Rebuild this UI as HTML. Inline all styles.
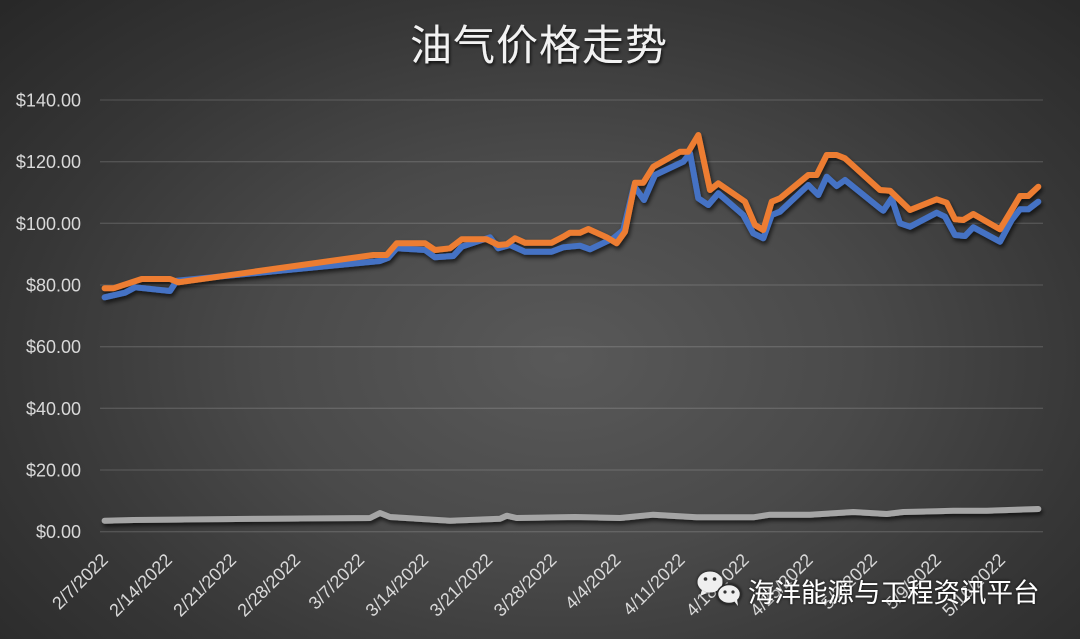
<!DOCTYPE html>
<html>
<head>
<meta charset="utf-8">
<style>
  html,body{margin:0;padding:0;}
  body{width:1080px;height:639px;overflow:hidden;
    background: radial-gradient(ellipse 78% 88% at 52% 56%, #595959 0%, #4a4a4a 35%, #363636 65%, #262626 95%, #222 100%);}
  svg{display:block;}
  .yl{font-family:"Liberation Sans",sans-serif;font-size:18px;fill:#d9d9d9;text-anchor:end;}
  .xl{font-family:"Liberation Sans",sans-serif;font-size:18px;fill:#d9d9d9;text-anchor:end;}
</style>
</head>
<body>
<svg width="1080" height="639" viewBox="0 0 1080 639" xmlns="http://www.w3.org/2000/svg">
  <defs>
    <filter id="sh" x="-5%" y="-20%" width="110%" height="140%">
      <feDropShadow dx="1.5" dy="3" stdDeviation="2.2" flood-color="#000" flood-opacity="0.65"/>
    </filter>
    <filter id="tsh" x="-10%" y="-30%" width="120%" height="160%">
      <feDropShadow dx="1" dy="2" stdDeviation="1.5" flood-color="#000" flood-opacity="0.8"/>
    </filter>
    <filter id="wsh" x="-10%" y="-30%" width="120%" height="160%">
      <feDropShadow dx="0" dy="0" stdDeviation="1.5" flood-color="#000" flood-opacity="0.9"/>
    </filter>
  </defs>

  <!-- Title -->
  <text x="539" y="60" text-anchor="middle" filter="url(#tsh)"
        style="font-family:'Liberation Sans','Noto Sans CJK SC',sans-serif;font-size:42px;fill:#f2f2f2;letter-spacing:1px;">油气价格走势</text>

  <!-- Gridlines -->
  <g stroke="#ffffff" stroke-opacity="0.14" stroke-width="1.3">
    <line x1="100" y1="100" x2="1043" y2="100"/>
    <line x1="100" y1="161.7" x2="1043" y2="161.7"/>
    <line x1="100" y1="223.3" x2="1043" y2="223.3"/>
    <line x1="100" y1="285" x2="1043" y2="285"/>
    <line x1="100" y1="346.7" x2="1043" y2="346.7"/>
    <line x1="100" y1="408.3" x2="1043" y2="408.3"/>
    <line x1="100" y1="470" x2="1043" y2="470"/>
    <line x1="100" y1="531.7" x2="1043" y2="531.7"/>
  </g>

  <!-- Y labels -->
  <text class="yl" x="81" y="106.5">$140.00</text>
  <text class="yl" x="81" y="168.2">$120.00</text>
  <text class="yl" x="81" y="229.8">$100.00</text>
  <text class="yl" x="81" y="291.5">$80.00</text>
  <text class="yl" x="81" y="353.2">$60.00</text>
  <text class="yl" x="81" y="414.8">$40.00</text>
  <text class="yl" x="81" y="476.5">$20.00</text>
  <text class="yl" x="81" y="538.2">$0.00</text>

  <!-- X labels -->
  <g>
    <text class="xl" transform="translate(109.1,561) rotate(-45)">2/7/2022</text>
    <text class="xl" transform="translate(173.2,561) rotate(-45)">2/14/2022</text>
    <text class="xl" transform="translate(237.3,561) rotate(-45)">2/21/2022</text>
    <text class="xl" transform="translate(301.4,561) rotate(-45)">2/28/2022</text>
    <text class="xl" transform="translate(365.4,561) rotate(-45)">3/7/2022</text>
    <text class="xl" transform="translate(429.5,561) rotate(-45)">3/14/2022</text>
    <text class="xl" transform="translate(493.6,561) rotate(-45)">3/21/2022</text>
    <text class="xl" transform="translate(557.7,561) rotate(-45)">3/28/2022</text>
    <text class="xl" transform="translate(621.8,561) rotate(-45)">4/4/2022</text>
    <text class="xl" transform="translate(685.9,561) rotate(-45)">4/11/2022</text>
    <text class="xl" transform="translate(749.9,561) rotate(-45)">4/18/2022</text>
    <text class="xl" transform="translate(814.0,561) rotate(-45)">4/25/2022</text>
    <text class="xl" transform="translate(878.1,561) rotate(-45)">5/2/2022</text>
    <text class="xl" transform="translate(942.2,561) rotate(-45)">5/9/2022</text>
    <text class="xl" transform="translate(1006.3,561) rotate(-45)">5/16/2022</text>
  </g>

  <!-- Series -->
  <g fill="none" stroke-width="6" stroke-linejoin="round" stroke-linecap="round" filter="url(#sh)">
    <!-- Gray -->
    <polyline stroke="#a5a5a5" points="104.6,520.7 133.3,520 266.7,518.7 370,518 380,513 390,517 450,520.7 500,518.7 506.7,515.7 516.7,518 575,517 620,518 653.3,514.7 696.7,517.3 753.3,517.3 770,514.7 810,514.7 853.3,512 886.7,514 903.3,512 936.7,511.3 953.3,510.7 986.7,510.7 1038.3,509"/>
    <!-- Blue -->
    <polyline stroke="#4472c4" points="104.6,297.3 125,292.7 135,287.3 170,291 176.7,280.7 380,261 388,258 396.7,248.3 425,250 435,257.3 453.3,256 461.7,246.7 490,237.3 498.3,248.3 510,245 525,251.7 551.7,251.7 563.3,247.3 580,245.7 590,249.3 613.3,238.3 623.3,230 634,186 644,200 655,175 683.3,161.7 690,153.3 698.3,198.3 708.3,205 718.3,193.3 743.3,215 753.3,233.3 763.3,238.3 771.7,215 780,211.7 808.3,185 818.3,195 826.7,176.7 836.7,186 845,180 880,208.3 883.3,210.7 891.7,198.3 900,223.3 910,226.7 936.7,212.7 945,216.7 955,235 965,236 973.3,227.3 1000,241.7 1011.7,220 1020,209.3 1028.3,209.3 1038.3,201.7"/>
    <!-- Orange -->
    <polyline stroke="#ed7d31" points="104.6,288.3 113.3,288.3 141.7,279 170,279 178.3,282.3 373.3,255 386.7,255 396.7,243.3 425,243.3 435,250 450,248.3 461.7,239.3 486.7,239.3 498.3,245 506.7,244.3 515,238.3 525,242.7 551.7,242.7 563.3,236.7 570,232.7 580,232.7 588.3,229 606.7,237.3 616.7,243.3 625,231.7 635,182.7 643.3,182.7 653.3,166.7 680,151.7 688.3,151.7 698.3,135 710,190 718.3,183.3 745,201.7 755,225 763.3,230 771.7,201.7 780,198.3 808.3,175 816.7,175 826.7,155 836.7,155 845,158.3 880,190 890,190.7 910,210 936.7,199.3 946.7,202.7 955,219.3 963.3,220 973.3,214 1000,229.3 1013.3,207.3 1020,196 1028.3,196 1038.3,186.7"/>
  </g>

  <!-- Watermark -->
  <g filter="url(#wsh)">
    <ellipse cx="710" cy="582" rx="12.5" ry="10.5" fill="#efefef"/>
    <path d="M702,590 l-2,6 l7,-3 z" fill="#efefef"/>
    <circle cx="705.5" cy="579" r="1.8" fill="#333"/>
    <circle cx="714.5" cy="579" r="1.8" fill="#333"/>
    <ellipse cx="729" cy="594" rx="11.5" ry="9.5" stroke="#2a2a2a" stroke-width="1.5" fill="#efefef"/>
    <path d="M734,601 l4,5 l-1,-7 z" fill="#efefef"/>
    <circle cx="725" cy="592" r="1.6" fill="#333"/>
    <circle cx="733" cy="592" r="1.6" fill="#333"/>
    <text x="748" y="602" style="font-family:'Liberation Sans','Noto Sans CJK SC',sans-serif;font-size:26.5px;fill:#ffffff;">海洋能源与工程资讯平台</text>
  </g>
</svg>
</body>
</html>
